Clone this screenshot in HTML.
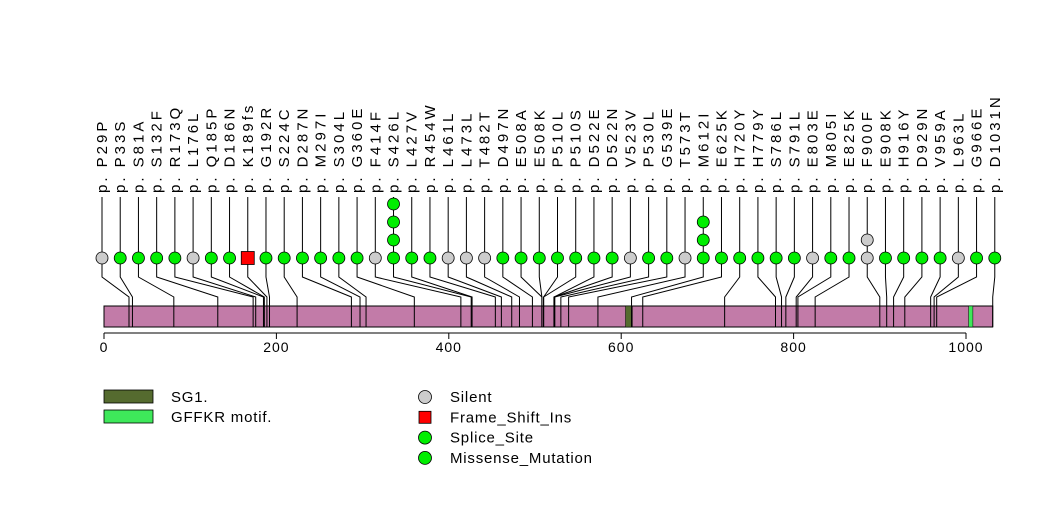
<!DOCTYPE html>
<html><head><meta charset="utf-8"><style>
body{margin:0;background:#fff;}
svg text{font-family:"Liberation Sans",sans-serif;}
</style></head><body>
<svg id="chart" width="1047" height="524" xmlns="http://www.w3.org/2000/svg"></svg>
<script>
const labels=["p.P29P","p.P33S","p.S81A","p.S132F","p.R173Q","p.L176L","p.Q185P","p.D186N","p.K189fs","p.G192R","p.S224C","p.D287N","p.M297I","p.S304L","p.G360E","p.F414F","p.S426L","p.L427V","p.R454W","p.L461L","p.L473L","p.T482T","p.D497N","p.E508A","p.E508K","p.P510L","p.P510S","p.D522E","p.D522N","p.V523V","p.P530L","p.G539E","p.T573T","p.M612I","p.E625K","p.H720Y","p.H779Y","p.S786L","p.S791L","p.E803E","p.M805I","p.E825K","p.F900F","p.E908K","p.H916Y","p.D929N","p.V959A","p.L963L","p.G966E","p.D1031N"];
const positions=[29,33,81,132,173,176,185,186,189,192,224,287,297,304,360,414,426,427,454,461,473,482,497,508,508,510,510,522,522,523,530,539,573,612,625,720,779,786,791,803,805,825,900,908,916,929,959,963,966,1031];
const counts=[1,1,1,1,1,1,1,1,1,1,1,1,1,1,1,1,4,1,1,1,1,1,1,1,1,1,1,1,1,1,1,1,1,3,1,1,1,1,1,1,1,1,2,1,1,1,1,1,1,1];
const types=["S","M","M","M","M","S","M","M","F","M","M","M","M","M","M","S","M","M","M","S","S","S","M","M","M","M","M","M","M","S","M","M","S","M","M","M","M","M","M","S","M","M","S","M","M","M","M","S","M","M"];
const domainNames=["SG1","GFFKR"];
const domainStart=[605,1003];
const domainEnd=[613,1008];
const domainColors=["#556b2f","#3ee85a"];
const ticks=[0,200,400,600,800,1000];
const proteinLength=1031;

const svg=document.getElementById('chart');
const NS="http://www.w3.org/2000/svg";
function mk(tag,attrs,parent){const e=document.createElementNS(NS,tag);for(const k in attrs)e.setAttribute(k,attrs[k]);(parent||svg).appendChild(e);return e;}
const xScale=aa=>104+aa*0.862;
const lolX=i=>102+i*18.22;
const fill={S:"#cccccc",M:"#00ee00",F:"#ff0000"};

const bar=mk('rect',{x:xScale(0),y:306,width:xScale(proteinLength)-xScale(0),height:21,fill:"#c27ba8",stroke:"#000","stroke-width":1});


domainNames.forEach((d,i)=>{
  const r=mk('rect',{x:xScale(domainStart[i]),y:306,width:xScale(domainEnd[i])-xScale(domainStart[i]),height:21,fill:domainColors[i],stroke:"#000","stroke-width":0.5});
  
  
});
labels.forEach((lab,i)=>{
  const lx=lolX(i), px=xScale(positions[i]);
  const g=mk('g',{});
  
  
  mk('polyline',{points:`${lx},197 ${lx},277 ${px},297 ${px},327`,fill:"none",stroke:"#000","stroke-width":1},g);
  for(let k=0;k<counts[i];k++){
    const cy=258-k*18;
    const t=types[i];
    if(t==="F") mk('rect',{x:lx-6.5,y:cy-6.5,width:13,height:13,fill:fill.F,stroke:"#000","stroke-width":0.8},g);
    else mk('circle',{cx:lx,cy:cy,r:6,fill:fill[t],stroke:"#000","stroke-width":0.8},g);
  }
  const tx=mk('text',{x:0,y:0,"font-size":15,"letter-spacing":3,fill:"#000",transform:`translate(${lx+5},193) rotate(-90)`},g);
  tx.textContent=lab.replace('p.','p. ');
});
const ax=mk('g',{});


mk('line',{x1:xScale(0),y1:333,x2:xScale(1000),y2:333,stroke:"#000"},ax);
ticks.forEach(t=>{
  mk('line',{x1:xScale(t),y1:333,x2:xScale(t),y2:339,stroke:"#000"},ax);
  const tt=mk('text',{x:xScale(t),y:352,"font-size":14,"letter-spacing":1,"text-anchor":"middle"},ax);
  tt.textContent=t;
});
const leg1=[["SG1.","#556b2f"],["GFFKR motif.","#3ee85a"]];
leg1.forEach((l,i)=>{
  const g=mk('g',{});
  
  
  mk('rect',{x:104,y:390+i*20,width:49,height:13,fill:l[1],stroke:"#000","stroke-width":0.8},g);
  const t=mk('text',{x:171,y:402+i*20,"font-size":15,"letter-spacing":0.8},g);t.textContent=l[0];
});
const leg2=[["Silent","#cccccc","c"],["Frame_Shift_Ins","#ff0000","r"],["Splice_Site","#00ee00","c"],["Missense_Mutation","#00ee00","c"]];
leg2.forEach((l,i)=>{
  const g=mk('g',{});
  
  
  const cy=397+i*20.3;
  if(l[2]==="r") mk('rect',{x:419,y:cy-6,width:12,height:12,fill:l[1],stroke:"#000","stroke-width":0.8},g);
  else mk('circle',{cx:425,cy:cy,r:6.5,fill:l[1],stroke:"#000","stroke-width":0.8},g);
  const t=mk('text',{x:450,y:cy+5,"font-size":15,"letter-spacing":0.8},g);t.textContent=l[0];
});
</script>
</body></html>
